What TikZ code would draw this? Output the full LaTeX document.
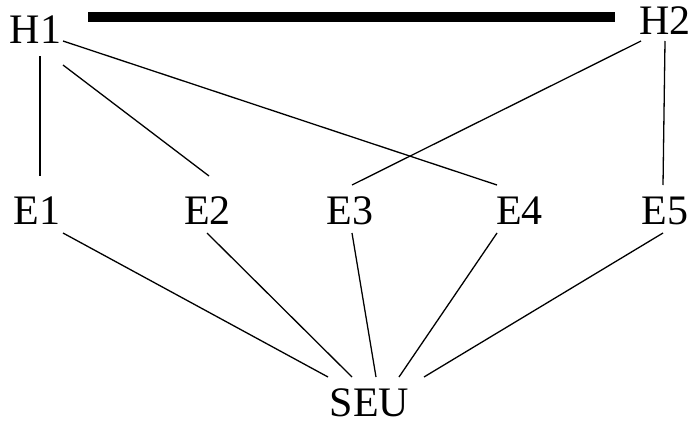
\documentclass[tikz,border=0pt]{standalone}
\usepackage{fontspec}
\setmainfont{Liberation Serif}
\begin{document}
\begin{tikzpicture}[x=1pt,y=1pt,
  lbl/.style={anchor=base,inner sep=0pt,font=\fontsize{42}{48}\selectfont},
  link/.style={line width=1.3pt},
  bar/.style={line width=10pt,line cap=butt}]
\useasboundingbox (0,0) rectangle (692,-423);
% labels
\node[lbl] (H1) at (35.5,-43) {H1};
\node[lbl] (H2) at (665,-34) {H2};
\node[lbl] (E1) at (37,-224) {E1};
\node[lbl] (E2) at (207.5,-224) {E2};
\node[lbl] (E3) at (350,-224) {E3};
\node[lbl] (E4) at (519.5,-224) {E4};
\node[lbl] (E5) at (665,-224) {E5};
\node[lbl] (SEU) at (369.5,-416) {SEU};
% thick bar between the two top nodes
\draw[bar] ([shift={(52.5,26)}]H1.base) -- ([shift={(-50,17)}]H2.base);
% upper links
\draw[link] ([shift={(4.5,-13)}]H1.base) -- ([shift={(3,48)}]E1.base);
\draw[link] ([shift={(27.5,-22)}]H1.base) -- ([shift={(1.5,48)}]E2.base);
\draw[link] ([shift={(27.5,2)}]H1.base) -- ([shift={(-22.5,39)}]E4.base);
\draw[link] ([shift={(-24,-7)}]H2.base) -- ([shift={(2,39)}]E3.base);
\draw[link] ([shift={(0,-7)}]H2.base) -- ([shift={(-2,39)}]E5.base);
% lower links
\draw[link] ([shift={(26,-9)}]E1.base) -- ([shift={(-41.5,39)}]SEU.base);
\draw[link] ([shift={(-0.5,-9)}]E2.base) -- ([shift={(-17.5,39)}]SEU.base);
\draw[link] ([shift={(2,-9)}]E3.base) -- ([shift={(6.5,39)}]SEU.base);
\draw[link] ([shift={(-22.5,-9)}]E4.base) -- ([shift={(29.5,39)}]SEU.base);
\draw[link] ([shift={(-2,-9)}]E5.base) -- ([shift={(54.5,39)}]SEU.base);
\end{tikzpicture}
\end{document}
